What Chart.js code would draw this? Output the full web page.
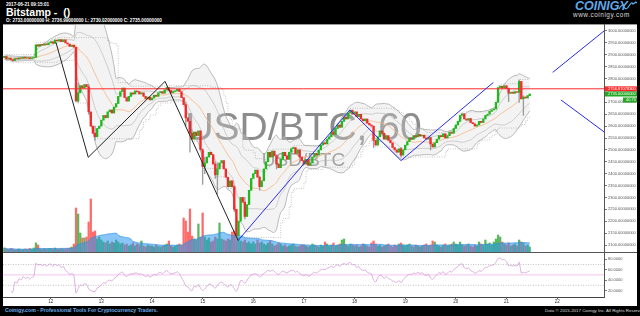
<!DOCTYPE html>
<html>
<head>
<meta charset="utf-8">
<script src="https://cdn.jsdelivr.net/npm/chart.js@4.4.1/dist/chart.umd.min.js"></script>
<style>
  body { margin: 0; width: 640px; height: 316px; background: #000; overflow: hidden; position: relative; font-family: "Liberation Sans", Arial, sans-serif; }
  #panel { position: absolute; left: 3px; top: 24px; width: 634px; height: 282px; background: #fff; }
  #topline { position: absolute; left: 3px; top: 24px; width: 634px; height: 1px; background: #999; }
  #sep { position: absolute; left: 3px; top: 252px; width: 634px; height: 1px; background: #555; }
  canvas { position: absolute; left: 3px; }
  #price { top: 24px; }
  #rsi { top: 252px; }
  .txt { position: absolute; white-space: pre; color: #fff; }
  #stamp { left: 6px; top: 2px; font-size: 4.6px; font-weight: bold; }
  #title { left: 6px; top: 6px; font-size: 10.5px; font-weight: bold; }
  #ohlc { left: 6px; top: 18px; font-size: 4.6px; font-weight: bold; }
  #logo { left: 575px; top: -1px; font-family: "Liberation Sans Narrow", "Liberation Sans", sans-serif; font-size: 12.5px; font-weight: bold; font-style: italic; color: #5fa9ea; }
  #www { left: 573px; top: 11px; font-size: 6.4px; letter-spacing: 0.55px; color: #ddd; }
  #foot1 { left: 5px; top: 307px; font-size: 5.2px; font-weight: bold; color: #6aaee8; }
  #foot2 { left: 545px; top: 308px; font-size: 4.4px; color: #ddd; }
  #squig { position: absolute; left: 618px; top: 1px; }
</style>
</head>
<body>
<div id="panel"></div>
<div id="topline"></div>
<canvas id="price" width="634" height="228"></canvas>
<canvas id="rsi" width="634" height="54"></canvas>
<div id="sep"></div>
<div class="txt" id="stamp">2017-06-21 09:15:01</div>
<div class="txt" id="title">Bitstamp -  ()</div>
<div class="txt" id="ohlc">O: 2733.00000000 H: 2736.99000000 L: 2730.02000000 C: 2735.00000000</div>
<div class="txt" id="logo">COINIGY</div>
<svg id="squig" width="20" height="10"><path d="M1 8 Q4 2 6 6 T11 5 T15 3 L18 1" fill="none" stroke="#5fa9ea" stroke-width="1.2"/><circle cx="18" cy="1.5" r="1" fill="#5fa9ea"/></svg>
<div class="txt" id="www">www.coinigy.com</div>
<div class="txt" id="foot1">Coinigy.com - Professional Tools For Cryptocurrency Traders.</div>
<div class="txt" id="foot2">Data © 2015-2017 Coinigy Inc. All Rights Reserved.</div>
<script>
// hourly closes, one array per day (first candle: June 11, 02:00)
const jun11 = [2893, 2882, 2886, 2880, 2876, 2884, 2882, 2887, 2885, 2890, 2886, 2888, 2884, 2887, 2889, 2942, 2936, 2944, 2940, 2946, 2942, 2950];
const jun12 = [2955, 2948, 2962, 2958, 2964, 2955, 2963, 2950, 2945, 2935, 2940, 2932, 2705, 2740, 2770, 2760, 2775, 2765, 2660, 2600, 2570, 2555, 2590, 2600];
const jun13 = [2625, 2645, 2635, 2660, 2668, 2655, 2680, 2695, 2725, 2745, 2760, 2720, 2705, 2725, 2740, 2735, 2748, 2745, 2735, 2740, 2725, 2715, 2722, 2710];
const jun14 = [2718, 2730, 2725, 2740, 2745, 2738, 2752, 2762, 2750, 2740, 2745, 2748, 2755, 2745, 2720, 2690, 2635, 2620, 2570, 2545, 2575, 2560, 2580, 2500];
const jun15 = [2430, 2445, 2470, 2490, 2480, 2440, 2395, 2420, 2445, 2455, 2420, 2385, 2345, 2370, 2345, 2250, 2140, 2200, 2300, 2280, 2220, 2270, 2330, 2380];
const jun16 = [2400, 2415, 2385, 2345, 2370, 2420, 2450, 2490, 2470, 2495, 2475, 2440, 2425, 2460, 2490, 2475, 2460, 2490, 2505, 2510, 2485, 2500, 2470, 2455];
const jun17 = [2440, 2460, 2435, 2445, 2470, 2485, 2478, 2500, 2520, 2530, 2525, 2545, 2555, 2575, 2565, 2590, 2605, 2595, 2620, 2638, 2630, 2655, 2667, 2650];
const jun18 = [2660, 2640, 2650, 2630, 2622, 2630, 2612, 2605, 2600, 2540, 2520, 2555, 2580, 2570, 2545, 2560, 2540, 2530, 2510, 2500, 2490, 2505, 2478, 2500];
const jun19 = [2520, 2535, 2550, 2545, 2560, 2555, 2565, 2558, 2562, 2550, 2545, 2552, 2525, 2512, 2530, 2545, 2560, 2555, 2568, 2550, 2560, 2575, 2570, 2590];
const jun20 = [2605, 2620, 2645, 2652, 2630, 2625, 2632, 2615, 2610, 2600, 2605, 2620, 2615, 2630, 2645, 2650, 2662, 2668, 2672, 2700, 2762, 2768, 2760, 2770];
const jun21 = [2758, 2738, 2742, 2738, 2745, 2742, 2788, 2715, 2722, 2718, 2728, 2735];
const firstOpen = 2888;

// hourly volume, same hours
const vol11 = [80, 60, 50, 70, 60, 40, 50, 60, 40, 50, 60, 50, 70, 60, 80, 180, 140, 60, 50, 70, 60, 70];
const vol12 = [70, 60, 80, 60, 50, 70, 60, 60, 70, 80, 100, 160, 880, 760, 380, 280, 280, 300, 600, 1060, 400, 420, 260, 300];
const vol13 = [240, 200, 180, 220, 160, 200, 180, 240, 200, 160, 180, 140, 160, 120, 140, 180, 120, 160, 140, 220, 120, 100, 140, 120];
const vol14 = [120, 100, 140, 110, 100, 120, 140, 160, 220, 120, 100, 120, 140, 160, 140, 680, 620, 400, 860, 320, 260, 240, 560, 300];
const vol15 = [780, 300, 240, 280, 200, 220, 300, 260, 580, 260, 240, 220, 260, 240, 400, 420, 380, 300, 220, 200, 240, 180, 200, 160];
const vol16 = [200, 160, 240, 180, 200, 160, 140, 180, 220, 160, 120, 140, 180, 160, 120, 140, 100, 120, 140, 160, 120, 100, 120, 140];
const vol17 = [140, 120, 100, 120, 160, 140, 120, 100, 140, 120, 200, 160, 120, 140, 180, 120, 140, 160, 240, 260, 140, 120, 160, 140];
const vol18 = [120, 140, 100, 120, 160, 140, 120, 100, 180, 220, 160, 120, 140, 100, 120, 140, 160, 120, 100, 140, 120, 160, 180, 140];
const vol19 = [120, 140, 160, 120, 100, 140, 120, 100, 120, 140, 160, 120, 140, 220, 200, 140, 120, 100, 140, 160, 120, 140, 160, 200];
const vol20 = [160, 140, 200, 140, 120, 140, 160, 120, 100, 140, 120, 200, 160, 140, 240, 160, 180, 140, 200, 260, 340, 300, 200, 160];
const vol21 = [140, 180, 120, 140, 160, 120, 240, 200, 180, 120, 140, 100];

// long wicks: [hour, low, high]
const wickList = [[13, 2700, 2780], [18, 2650, 2775], [21, 2540, 2600], [64, 2600, 2700], [66, 2490, 2620], [72, 2355, 2505],
  [73, 2400, 2470], [78, 2380, 2450], [79, 2315, 2445], [87, 2240, 2350], [88, 2119, 2250], [92, 2210, 2300], [99, 2330, 2390],
  [107, 2420, 2480], [153, 2510, 2600], [166, 2470, 2510], [180, 2500, 2552], [217, 2703, 2760], [222, 2700, 2795], [224, 2645, 2728]];

// drawn trend lines (hour, price)
const blackZigX = [2.5, 17.8, 54.2, 88.8];
const blackZigY = [2952, 2469, 2788, 2119];
const blueZigX = [88.8, 141.8, 166, 209.8];
const blueZigY = [2119, 2668, 2455, 2784];
const rayUpX = [237.9, 262.2], rayUpY = [2826, 3000];
const rayDownX = [241.8, 262.2], rayDownY = [2710, 2576];

const priceTicks = [2100, 2150, 2200, 2250, 2300, 2350, 2400, 2450, 2500, 2550, 2600, 2650, 2700, 2750, 2800, 2850, 2900, 2950, 3000];
const rsiTicks = [20, 40, 60, 80];
const dayTicks = [0, 24, 48, 72, 96, 120, 144, 168, 192, 216, 240];
const dayLabels = ['12', '13', '14', '15', '16', '17', '18', '19', '20', '21', '22'];
const lastPrice = 2756.870783, closePrice = 2735.0, timerText = '40.70';
const pair = 'USD/BTC', interval = '60';

const startHour = -22;
const xMin = -22.6, xMax = 262.2;

const closes = [].concat(jun11, jun12, jun13, jun14, jun15, jun16, jun17, jun18, jun19, jun20, jun21);
const volumes = [].concat(vol11, vol12, vol13, vol14, vol15, vol16, vol17, vol18, vol19, vol20, vol21);
const hours = closes.map((_, i) => startHour + i);
const opens = closes.map((c, i) => i ? closes[i - 1] : firstOpen);

const up = '#1fb81f', down = '#f42a2a';

function rolling(arr, n) {
    const mean = [], sd = [];
    arr.forEach((_, i) => {
        const w = arr.slice(Math.max(0, i - n + 1), i + 1);
        const m = w.reduce((a, b) => a + b, 0) / w.length;
        const v = w.reduce((a, b) => a + (b - m) * (b - m), 0) / w.length;
        mean.push(m);
        sd.push(Math.sqrt(v));
    });
    return { mean, sd };
}

function rsiCalc(values, n) {
    const out = [null];
    let g = 0, l = 0;
    for (let i = 1; i < values.length; i++) {
        const d = values[i] - values[i - 1];
        const u = Math.max(d, 0), dn = Math.max(-d, 0);
        const k = Math.min(i, n);
        g = (g * (k - 1) + u) / k;
        l = (l * (k - 1) + dn) / k;
        out.push(i < 3 ? null : (l === 0 ? 100 : 100 - 100 / (1 + g / l)));
    }
    return out;
}

// highest / lowest body over the last n candles (dotted channel)
function channel(n, pick) {
    return closes.map((c, i) => {
        const from = Math.max(0, i - n + 1);
        const vals = [];
        for (let j = from; j <= i; j++) vals.push(opens[j], closes[j]);
        return pick(...vals);
    });
}

const bb = rolling(closes, 20);
const pts = arr => arr.map((y, i) => ({ x: hours[i], y }));
const bbUp2 = pts(bb.mean.map((m, i) => m + 2 * bb.sd[i]));
const bbLo2 = pts(bb.mean.map((m, i) => m - 2 * bb.sd[i]));
const bbUp1 = pts(bb.mean.map((m, i) => m + bb.sd[i]));
const bbLo1 = pts(bb.mean.map((m, i) => m - bb.sd[i]));
const bbMid = pts(bb.mean);
const dcUp = pts(channel(20, Math.max).map(v => v + 8));
const dcLo = pts(channel(20, Math.min).map(v => v - 8));
const volMa = pts(rolling(volumes, 20).mean);
const rsiVals = pts(rsiCalc(closes, 14));

const zip = (xs, ys) => xs.map((x, i) => ({ x, y: ys[i] }));
const flat = v => [{ x: xMin, y: v }, { x: xMax, y: v }];

const line = (data, color, width, order, extra) => Object.assign({
    type: 'line', data, borderColor: color, borderWidth: width, pointRadius: 0, fill: false, order
}, extra || {});

const watermark = {
    id: 'watermark',
    beforeDatasetsDraw(chart) {
        const { ctx, chartArea: a } = chart;
        const cx = (a.left + a.right) / 2;
        ctx.save();
        ctx.fillStyle = 'rgba(120,120,120,0.85)';
        ctx.textAlign = 'center';
        ctx.font = '39px "Liberation Sans"';
        ctx.fillText(pair + ', ' + interval, cx, a.top + a.height * 0.509);
        ctx.font = '19px "Liberation Sans"';
        ctx.fillText(pair, cx, a.top + a.height * 0.621);
        ctx.restore();
    }
};

const tags = {
    id: 'tags',
    afterDraw(chart) {
        const s = chart.scales.y, ctx = chart.ctx;
        const x0 = s.left + 1, w = s.width - 1;
        ctx.save();
        ctx.font = '4px "Liberation Sans"';
        ctx.textBaseline = 'middle';
        [[lastPrice, '#ff2a2a'], [closePrice, '#22a822']].forEach(([v, c]) => {
            const py = s.getPixelForValue(v);
            ctx.fillStyle = c;
            ctx.fillRect(x0, py - 2.5, w, 5);
            ctx.fillStyle = '#fff';
            ctx.fillText(v.toFixed(8), x0 + 3, py);
        });
        const py = s.getPixelForValue(closePrice) + 6;
        ctx.fillStyle = '#22a822';
        ctx.fillRect(s.right - 14, py - 2.5, 14, 5);
        ctx.fillStyle = '#fff';
        ctx.fillText(timerText, s.right - 11, py);
        ctx.restore();
    }
};

const noPad = s => { s.paddingTop = 0; s.paddingBottom = 0; s.paddingLeft = 0; s.paddingRight = 0; };

new Chart(document.getElementById('price'), {
    type: 'bar',
    data: {
        datasets: [
            line(bbUp2, '#a8a8a8', 0.8, 20, { tension: 0.3 }),
            line(bbLo2, '#a8a8a8', 0.8, 20, { tension: 0.3, fill: '-1', backgroundColor: 'rgba(215,215,215,0.3)' }),
            line(bbUp1, '#b4b4b4', 0.6, 19, { tension: 0.3 }),
            line(bbLo1, '#b4b4b4', 0.6, 19, { tension: 0.3 }),
            line(dcUp, '#9a9a9a', 0.7, 19, { stepped: true, borderDash: [0.8, 1.6] }),
            line(dcLo, '#9a9a9a', 0.7, 19, { stepped: true, borderDash: [0.8, 1.6] }),
            line(bbMid, '#f5b585', 0.8, 18, { tension: 0.3 }),
            {
                type: 'bar', data: hours.map((h, i) => ({ x: h, y: volumes[i] })), yAxisID: 'yv', grouped: false,
                backgroundColor: closes.map((c, i) => c >= opens[i] ? '#5cb85c' : '#ff6a6a'), barThickness: 1.6, order: 17
            },
            line(volMa, 'rgba(40,140,230,0.8)', 0.8, 16, { yAxisID: 'yv', tension: 0.4, fill: 'origin', backgroundColor: 'rgba(40,150,240,0.55)' }),
            {
                type: 'bar', data: wickList.map(([h, lo, hi]) => ({ x: h, y: [lo, hi] })), grouped: false,
                backgroundColor: '#9c9c9c', barThickness: 0.7, order: 4
            },
            {
                type: 'bar', data: hours.map((h, i) => ({ x: h, y: [opens[i], closes[i]] })), grouped: false,
                backgroundColor: closes.map((c, i) => c >= opens[i] ? up : down), barThickness: 1.7, order: 3
            },
            line(flat(lastPrice), '#ff2a2a', 1, 2),
            line(zip(blackZigX, blackZigY), '#222', 1, 1),
            line(zip(blueZigX, blueZigY), '#2a2aee', 1, 1),
            line(zip(rayUpX, rayUpY), '#2a2aee', 1, 1),
            line(zip(rayDownX, rayDownY), '#2a2aee', 1, 1)
        ]
    },
    options: {
        responsive: false, animation: false, events: [],
        layout: { padding: 0 },
        plugins: { legend: { display: false }, tooltip: { enabled: false } },
        scales: {
            x: { type: 'linear', min: xMin, max: xMax, display: false, offset: false },
            y: {
                position: 'right', min: 2070.6, max: 3029.4,
                afterBuildTicks: s => { s.ticks = priceTicks.map(v => ({ value: v })); },
                afterFit: s => { s.width = 33; noPad(s); },
                grid: { drawOnChartArea: false, tickLength: 3, color: '#777' },
                border: { color: '#555' },
                ticks: { font: { size: 4, family: 'Liberation Sans' }, color: '#555', padding: 1, callback: v => v.toFixed(8) }
            },
            yv: { display: false, min: 0, max: 4560 }
        }
    },
    plugins: [watermark, tags]
});

new Chart(document.getElementById('rsi'), {
    type: 'line',
    data: {
        datasets: [
            line(flat(70), '#aaa', 0.7, 3, { borderDash: [1, 1.5] }),
            line(flat(30), '#aaa', 0.7, 3, { borderDash: [1, 1.5] }),
            line(flat(50), '#f0b4e4', 0.8, 2),
            line(rsiVals, '#d49ad8', 0.8, 1, { tension: 0.2 })
        ]
    },
    options: {
        responsive: false, animation: false, events: [],
        layout: { padding: 0 },
        plugins: { legend: { display: false }, tooltip: { enabled: false } },
        scales: {
            x: {
                type: 'linear', min: xMin, max: xMax, position: 'bottom',
                afterBuildTicks: s => { s.ticks = dayTicks.map(v => ({ value: v })); },
                afterFit: s => { s.height = 9; noPad(s); },
                grid: { drawOnChartArea: false, tickLength: 2, color: '#666' },
                border: { color: '#444' },
                ticks: { font: { size: 4.5, family: 'Liberation Sans' }, color: '#333', padding: 0, maxRotation: 0, autoSkip: false,
                    callback: v => dayLabels[dayTicks.indexOf(v)] }
            },
            y: {
                position: 'right', min: 7.5, max: 94,
                afterBuildTicks: s => { s.ticks = rsiTicks.map(v => ({ value: v })); },
                afterFit: s => { s.width = 33; noPad(s); },
                grid: { drawOnChartArea: false, tickLength: 3, color: '#777' },
                border: { color: '#555' },
                ticks: { font: { size: 4, family: 'Liberation Sans' }, color: '#555', padding: 1, callback: v => v.toFixed(4) }
            }
        }
    }
});
</script>
</body>
</html>
